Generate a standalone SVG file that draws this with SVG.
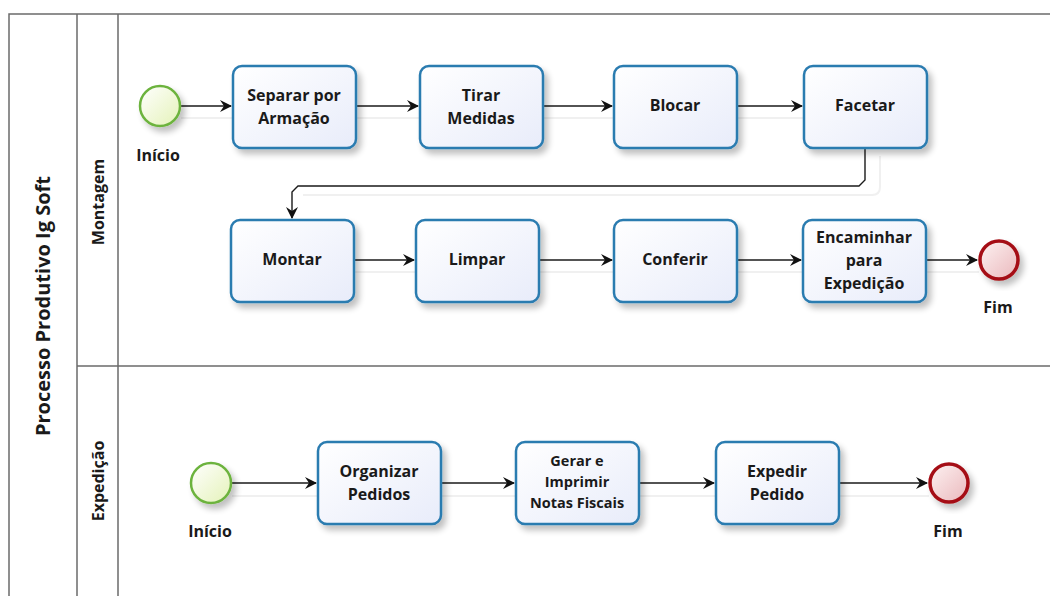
<svg xmlns="http://www.w3.org/2000/svg" width="1050" height="596" viewBox="0 0 1050 596">
<defs>
<linearGradient id="gTask" x1="0" y1="0" x2="1" y2="1"><stop offset="0" stop-color="#ffffff"/><stop offset="1" stop-color="#e8ecfa"/></linearGradient>
<linearGradient id="gStart" x1="0" y1="0" x2="1" y2="1"><stop offset="0" stop-color="#ffffff"/><stop offset="1" stop-color="#e4f2b8"/></linearGradient>
<linearGradient id="gEnd" x1="0" y1="0" x2="1" y2="1"><stop offset="0" stop-color="#fdf2f2"/><stop offset="1" stop-color="#eab8bc"/></linearGradient>
<filter id="sh" x="-20%" y="-20%" width="150%" height="150%"><feGaussianBlur in="SourceAlpha" stdDeviation="3"/><feOffset dx="4" dy="5"/><feComponentTransfer><feFuncA type="linear" slope="0.25"/></feComponentTransfer><feMerge><feMergeNode/><feMergeNode in="SourceGraphic"/></feMerge></filter>
<marker id="arr" markerWidth="12" markerHeight="12" refX="11" refY="6" orient="auto" markerUnits="userSpaceOnUse"><path d="M0,0 L12,6 L0,12 L4,6 Z" fill="#111"/></marker>
</defs>
<style>
.task{fill:url(#gTask);stroke:#2b7bb0;stroke-width:2.5;filter:url(#sh)}
.start{fill:url(#gStart);stroke:#6cb33e;stroke-width:2.5;filter:url(#sh)}
.end{fill:url(#gEnd);stroke:#a50f14;stroke-width:3.5;filter:url(#sh)}
.t{font-family:"Open Sans","DejaVu Sans",sans-serif;font-weight:bold;font-size:16px;fill:#1a1a1a;text-anchor:middle}
.ts{font-size:14.5px}
.tp{font-size:20px}
.lane{fill:none;stroke:#6b6b6b;stroke-width:1.5}
.c{fill:none;stroke:#1a1a1a;stroke-width:1.4;marker-end:url(#arr)}
.cs{fill:none;stroke:#f0f0f0;stroke-width:2}
</style>
<rect width="1050" height="596" fill="#ffffff"/>
<g id="pool">
<path class="lane" d="M1050,14 H9 V596 M77,14 V596 M118,14 V596 M77,366 H1050"/>
<text class="t tp" transform="translate(50,306) rotate(-90)">Processo Produtivo Ig Soft</text>
<text class="t" transform="translate(104,202) rotate(-90)">Montagem</text>
<text class="t" transform="translate(104,481) rotate(-90)">Expedição</text>
</g>
<g id="connectors">
<path class="cs" d="M181,118 H233 M356,118 H420 M543,118 H614 M737,118 H804 M354,272 H416 M539,272 H614 M737,272 H803 M926,272 H979 M232,496 H318 M441,496 H516 M639,496 H716 M839,496 H929 M303,195 H872 Q880,195 880,187 V156"/>
<path class="c" d="M181,106 H231"/>
<path class="c" d="M356,106 H418"/>
<path class="c" d="M543,106 H612"/>
<path class="c" d="M737,106 H802"/>
<path class="c" d="M865,148 V180 L859,186 H298 L292,192 V218"/>
<path class="c" d="M354,260 H414"/>
<path class="c" d="M539,260 H612"/>
<path class="c" d="M737,260 H801"/>
<path class="c" d="M926,260 H977"/>
<path class="c" d="M232,483 H316"/>
<path class="c" d="M441,483 H514"/>
<path class="c" d="M639,483 H714"/>
<path class="c" d="M839,483 H927"/>
</g>
<g id="inicio1"><circle class="start" cx="160" cy="106" r="20"/><text class="t" x="158" y="161">Início</text></g>
<g id="separar"><rect class="task" x="233" y="66" width="123" height="82" rx="9"/><text class="t" x="294" y="101">Separar por</text><text class="t" x="294" y="124">Armação</text></g>
<g id="tirar"><rect class="task" x="420" y="66" width="123" height="82" rx="9"/><text class="t" x="481" y="101">Tirar</text><text class="t" x="481" y="124">Medidas</text></g>
<g id="blocar"><rect class="task" x="614" y="66" width="123" height="82" rx="9"/><text class="t" x="675" y="111">Blocar</text></g>
<g id="facetar"><rect class="task" x="804" y="66" width="123" height="82" rx="9"/><text class="t" x="865" y="111">Facetar</text></g>
<g id="montar"><rect class="task" x="231" y="220" width="123" height="82" rx="9"/><text class="t" x="292" y="265">Montar</text></g>
<g id="limpar"><rect class="task" x="416" y="220" width="123" height="82" rx="9"/><text class="t" x="477" y="265">Limpar</text></g>
<g id="conferir"><rect class="task" x="614" y="220" width="123" height="82" rx="9"/><text class="t" x="675" y="265">Conferir</text></g>
<g id="encaminhar"><rect class="task" x="803" y="220" width="123" height="82" rx="9"/><text class="t" x="864" y="243">Encaminhar</text><text class="t" x="864" y="266">para</text><text class="t" x="864" y="289">Expedição</text></g>
<g id="fim1"><circle class="end" cx="999" cy="260" r="19"/><text class="t" x="998" y="313">Fim</text></g>
<g id="inicio2"><circle class="start" cx="211" cy="483" r="20"/><text class="t" x="210" y="537">Início</text></g>
<g id="organizar"><rect class="task" x="318" y="442" width="123" height="82" rx="9"/><text class="t" x="379" y="477">Organizar</text><text class="t" x="379" y="500">Pedidos</text></g>
<g id="gerar"><rect class="task" x="516" y="442" width="123" height="82" rx="9"/><text class="t ts" x="577" y="466">Gerar e</text><text class="t ts" x="577" y="487">Imprimir</text><text class="t ts" x="577" y="508">Notas Fiscais</text></g>
<g id="expedir"><rect class="task" x="716" y="442" width="123" height="82" rx="9"/><text class="t" x="777" y="477">Expedir</text><text class="t" x="777" y="500">Pedido</text></g>
<g id="fim2"><circle class="end" cx="949" cy="483" r="19"/><text class="t" x="948" y="537">Fim</text></g>
</svg>
